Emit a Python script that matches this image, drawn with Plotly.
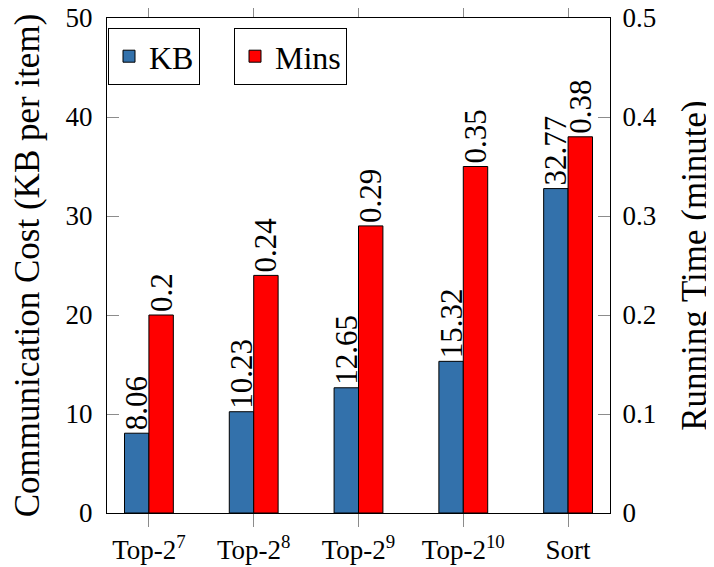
import plotly.graph_objects as go

categories = ["Top-2<sup>7</sup>", "Top-2<sup>8</sup>", "Top-2<sup>9</sup>", "Top-2<sup>10</sup>", "Sort"]
kb_values = [8.06, 10.23, 12.65, 15.32, 32.77]
mins_values = [0.2, 0.24, 0.29, 0.35, 0.38]
kb_labels = ["8.06", "10.23", "12.65", "15.32", "32.77"]
mins_labels = ["0.2", "0.24", "0.29", "0.35", "0.38"]

FONT = "Liberation Serif"
BLUE = "#3371AB"
RED = "#FF0000"
TICKC = "#8c8c8c"
BW = 0.233

fig = go.Figure()
fig.add_trace(go.Bar(
    x=categories, y=kb_values, name="KB", yaxis="y",
    width=BW, offset=-BW,
    marker=dict(color=BLUE, line=dict(color="black", width=1)),
    text=kb_labels, textposition="outside", textangle=-90,
    constraintext="none", cliponaxis=False,
    textfont=dict(family=FONT, size=31, color="black"),
    legend="legend", showlegend=True,
))
fig.add_trace(go.Bar(
    x=categories, y=mins_values, name="Mins", yaxis="y2",
    width=BW, offset=0,
    marker=dict(color=RED, line=dict(color="black", width=1)),
    text=mins_labels, textposition="outside", textangle=-90,
    constraintext="none", cliponaxis=False,
    textfont=dict(family=FONT, size=31, color="black"),
    legend="legend2", showlegend=True,
))

fig.update_layout(
    width=706, height=559,
    margin=dict(l=99, r=104, t=10, b=54),
    paper_bgcolor="white", plot_bgcolor="white",
    barmode="overlay", showlegend=True,
    font=dict(family=FONT, size=27, color="black"),
    xaxis=dict(
        range=[-0.4, 4.4], showgrid=False, zeroline=False, automargin=False,
        showline=True, linecolor="black", linewidth=1, mirror="ticks",
        ticks="outside", ticklen=13, tickcolor=TICKC, tickwidth=1,
        tickfont=dict(family=FONT, size=27), ticklabeloverflow="allow",
    ),
    yaxis=dict(
        range=[0, 50], dtick=10, showgrid=False, zeroline=False, automargin=False,
        showline=True, linecolor="black", linewidth=1,
        ticks="inside", ticklen=12, tickcolor=TICKC, tickwidth=1,
        tickfont=dict(family=FONT, size=27), ticklabeloverflow="allow",
        ticklabelstandoff=8,
        title=dict(text="Communication Cost (KB per item)", font=dict(family=FONT, size=35), standoff=26),
    ),
    yaxis2=dict(
        range=[0, 0.5], dtick=0.1, overlaying="y", side="right",
        showgrid=False, zeroline=False, automargin=False,
        showline=True, linecolor="black", linewidth=1,
        ticks="inside", ticklen=12, tickcolor=TICKC, tickwidth=1,
        tickfont=dict(family=FONT, size=27), ticklabeloverflow="allow",
        ticklabelstandoff=6,
        title=dict(text="Running Time (minute)", font=dict(family=FONT, size=35), standoff=26),
    ),
    legend=dict(
        x=0.002, y=0.98, xanchor="left", yanchor="top",
        bordercolor="black", borderwidth=1, bgcolor="white",
        font=dict(family=FONT, size=32),
    ),
    legend2=dict(
        x=0.2525, y=0.98, xanchor="left", yanchor="top",
        bordercolor="black", borderwidth=1, bgcolor="white",
        font=dict(family=FONT, size=32),
    ),
)

fig.write_html("out.html")
